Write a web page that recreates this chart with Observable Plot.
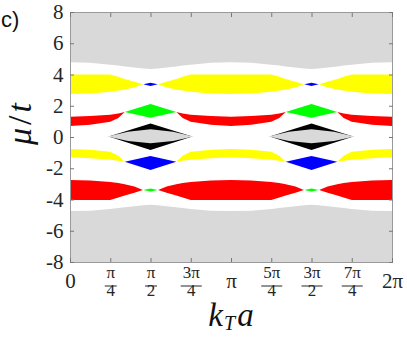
<!DOCTYPE html>
<html><head><meta charset="utf-8">
<script src="https://cdn.jsdelivr.net/npm/d3@7"></script>
<script src="https://cdn.jsdelivr.net/npm/@observablehq/plot@0.6"></script>
<style>body{margin:0;background:#fff;} svg{display:block;}</style>
</head><body><div id="chart"></div>
<script>
// k_T a positions, in units of π
const kx = [0,0.125,0.25,0.3,0.34,0.4,0.4525,0.5,0.5475,0.6,0.66,0.7,0.75,0.875,1.0,
            1.125,1.25,1.3,1.34,1.4,1.4525,1.5,1.5475,1.6,1.66,1.7,1.75,1.875,2.0];
// band edges (μ/t)
const grayTopLow = [4.78,4.75,4.62,4.57,4.52,4.45,4.38,4.35,4.38,4.45,4.52,4.57,4.62,4.75,4.78,
                    4.75,4.62,4.57,4.52,4.45,4.38,4.35,4.38,4.45,4.52,4.57,4.62,4.75,4.78];
const yelUpHi = [4.0,4.0,4.0,3.85,3.72,3.53,3.37,3.37,3.37,3.53,3.72,3.85,4.0,4.0,4.0,
                 4.0,4.0,3.85,3.72,3.53,3.37,3.37,3.37,3.53,3.72,3.85,4.0,4.0,4.0];
const yelUpLo = [2.75,2.79,2.9,2.97,3.04,3.17,3.37,3.37,3.37,3.17,3.04,2.97,2.9,2.79,2.75,
                 2.79,2.9,2.97,3.04,3.17,3.37,3.37,3.37,3.17,3.04,2.97,2.9,2.79,2.75];
const redUpHi = [1.3,1.34,1.42,1.5,1.6,1.6,1.6,1.6,1.6,1.6,1.6,1.5,1.42,1.34,1.3,
                 1.34,1.42,1.5,1.6,1.6,1.6,1.6,1.6,1.6,1.6,1.5,1.42,1.34,1.3];
const redUpLo = [0.71,0.78,0.98,1.22,1.6,1.6,1.6,1.6,1.6,1.6,1.6,1.22,0.98,0.78,0.71,
                 0.78,0.98,1.22,1.6,1.6,1.6,1.6,1.6,1.6,1.6,1.22,0.98,0.78,0.71];
const yelLoHi = [-0.77,-0.81,-0.95,-1.2,-1.58,-1.58,-1.58,-1.58,-1.58,-1.58,-1.58,-1.2,-0.95,-0.81,-0.77,
                 -0.81,-0.95,-1.2,-1.58,-1.58,-1.58,-1.58,-1.58,-1.58,-1.58,-1.2,-0.95,-0.81,-0.77];
const yelLoLo = [-1.3,-1.36,-1.45,-1.52,-1.58,-1.58,-1.58,-1.58,-1.58,-1.58,-1.58,-1.52,-1.45,-1.36,-1.3,
                 -1.36,-1.45,-1.52,-1.58,-1.58,-1.58,-1.58,-1.58,-1.58,-1.58,-1.52,-1.45,-1.36,-1.3];
const redLoHi = [-2.75,-2.78,-2.88,-2.95,-3.03,-3.17,-3.39,-3.39,-3.39,-3.17,-3.03,-2.95,-2.88,-2.78,-2.75,
                 -2.78,-2.88,-2.95,-3.03,-3.17,-3.39,-3.39,-3.39,-3.17,-3.03,-2.95,-2.88,-2.78,-2.75];
const redLoLo = [-4.03,-4.03,-4.03,-3.87,-3.75,-3.56,-3.39,-3.39,-3.39,-3.56,-3.75,-3.87,-4.03,-4.03,-4.03,
                 -4.03,-4.03,-3.87,-3.75,-3.56,-3.39,-3.39,-3.39,-3.56,-3.75,-3.87,-4.03,-4.03,-4.03];
const grayBotHigh = [-4.74,-4.72,-4.6,-4.55,-4.5,-4.43,-4.37,-4.34,-4.37,-4.43,-4.5,-4.55,-4.6,-4.72,-4.74,
                     -4.72,-4.6,-4.55,-4.5,-4.43,-4.37,-4.34,-4.37,-4.43,-4.5,-4.55,-4.6,-4.72,-4.74];

// small crossings and diamonds (x in units of π), one per period
const diaPeriod = [1,1,1,2,2,2];
const smallX = [0.455,0.5,0.545,1.455,1.5,1.545];
const blueSmLo = [3.37,3.26,3.37,3.37,3.26,3.37];
const blueSmHi = [3.37,3.48,3.37,3.37,3.48,3.37];
const greenSmLo = [-3.39,-3.49,-3.39,-3.39,-3.49,-3.39];
const greenSmHi = [-3.39,-3.29,-3.39,-3.39,-3.29,-3.39];
const bigX = [0.34,0.5,0.66,1.34,1.5,1.66];
const greenLo = [1.6,1.24,1.6,1.6,1.24,1.6];
const greenHi = [1.6,2.11,1.6,1.6,2.11,1.6];
const blueLo = [-1.58,-2.11,-1.58,-1.58,-2.11,-1.58];
const blueHi = [-1.58,-1.22,-1.58,-1.58,-1.22,-1.58];

const lensPeriod = [1,1,1,1,1,2,2,2,2,2];
const blackX = [0.24,0.36,0.5,0.64,0.76,1.24,1.36,1.5,1.64,1.76];
const blackLo = [0.03,-0.37,-0.83,-0.37,0.03,0.03,-0.37,-0.83,-0.37,0.03];
const blackHi = [0.03,0.42,0.87,0.42,0.03,0.03,0.42,0.87,0.42,0.03];
const lensX = [0.2325,0.36,0.5,0.64,0.7675,1.2325,1.36,1.5,1.64,1.7675];
const lensLo = [0.03,-0.25,-0.4,-0.25,0.03,0.03,-0.25,-0.4,-0.25,0.03];
const lensHi = [0.03,0.33,0.5,0.33,0.03,0.03,0.33,0.5,0.33,0.03];

// ticks
const yTicks = [-8,-6,-4,-2,0,2,4,6,8];
const xTickQuarter = [0,1,2,3,4,5,6,7,8];       // multiples of π/4
const xTickNum = ["0","π","π","3π","π","5π","3π","7π","2π"];
const xTickDen = [null,"4","2","4",null,"4","2","4",null];

const PI = Math.PI;
const bands = kx.map((k,i)=>({x:k*PI, gT:grayTopLow[i], yuH:yelUpHi[i], yuL:yelUpLo[i],
  ruH:redUpHi[i], ruL:redUpLo[i], ylH:yelLoHi[i], ylL:yelLoLo[i], rlH:redLoHi[i], rlL:redLoLo[i], gB:grayBotHigh[i]}));
const small = smallX.map((k,i)=>({x:k*PI, p:diaPeriod[i], bL:blueSmLo[i], bH:blueSmHi[i], gL:greenSmLo[i], gH:greenSmHi[i]}));
const big = bigX.map((k,i)=>({x:k*PI, p:diaPeriod[i], gL:greenLo[i], gH:greenHi[i], bL:blueLo[i], bH:blueHi[i]}));
const black = blackX.map((k,i)=>({x:k*PI, p:lensPeriod[i], lo:blackLo[i], hi:blackHi[i]}));
const lens = lensX.map((k,i)=>({x:k*PI, p:lensPeriod[i], lo:lensLo[i], hi:lensHi[i]}));

const xt = xTickQuarter.map((q,i)=>({x:q*PI/4, num:xTickNum[i], den:xTickDen[i]}));
const simpleT = xt.filter(d=>d.den===null);
const fracT = xt.filter(d=>d.den!==null);

const barSym = w => ({draw(ctx){ ctx.moveTo(-w/2,0); ctx.lineTo(w/2,0); }});
const serif = "Liberation Serif, Times New Roman, serif";
const tickCol = "#777";
const txtCol = "#262626";
const noLabel = () => "";

const plot = Plot.plot({
  width: 407, height: 337,
  marginLeft: 70, marginRight: 15, marginTop: 12, marginBottom: 75,
  x: {domain:[0, 2*PI], axis: null},
  y: {domain:[-8, 8], axis: null},
  style: {fontFamily: serif, background: "#fff"},
  marks: [
    Plot.areaY(bands, {x:"x", y1:"gT", y2:8, fill:"#d9d9d9"}),
    Plot.areaY(bands, {x:"x", y1:"gB", y2:-8, fill:"#d9d9d9"}),
    Plot.areaY(bands, {x:"x", y1:"yuL", y2:"yuH", fill:"#ffff00"}),
    Plot.areaY(bands, {x:"x", y1:"ruL", y2:"ruH", fill:"#ff0000"}),
    Plot.areaY(bands, {x:"x", y1:"ylL", y2:"ylH", fill:"#ffff00"}),
    Plot.areaY(bands, {x:"x", y1:"rlL", y2:"rlH", fill:"#ff0000"}),
    Plot.areaY(small, {x:"x", y1:"bL", y2:"bH", z:"p", fill:"#0000ff"}),
    Plot.areaY(small, {x:"x", y1:"gL", y2:"gH", z:"p", fill:"#00ff00"}),
    Plot.areaY(big, {x:"x", y1:"gL", y2:"gH", z:"p", fill:"#00ff00"}),
    Plot.areaY(big, {x:"x", y1:"bL", y2:"bH", z:"p", fill:"#0000ff"}),
    Plot.areaY(black, {x:"x", y1:"lo", y2:"hi", z:"p", fill:"#000000"}),
    Plot.areaY(lens, {x:"x", y1:"lo", y2:"hi", z:"p", fill:"#d9d9d9"}),
    Plot.frame({stroke:"#9a9a9a"}),
    // inward ticks (no labels)
    Plot.axisY(yTicks, {anchor:"left", tickSize:4, dx:4, tickFormat:noLabel, label:null, stroke:tickCol}),
    Plot.axisY(yTicks, {anchor:"right", tickSize:4, dx:-4, tickFormat:noLabel, label:null, stroke:tickCol}),
    Plot.axisX(xt.map(d=>d.x), {anchor:"bottom", tickSize:4, dy:-4, tickFormat:noLabel, label:null, stroke:tickCol}),
    Plot.axisX(xt.map(d=>d.x), {anchor:"top", tickSize:4, dy:4, tickFormat:noLabel, label:null, stroke:tickCol}),
    // y tick labels
    Plot.axisY(yTicks, {anchor:"left", tickSize:0, tickPadding:7, tickFormat:d=>String(d), label:null,
                        fontSize:21, fontFamily:serif, fill:txtCol}),
    // x tick labels
    Plot.text(simpleT, {x:"x", text:"num", frameAnchor:"bottom", dy:25, fontSize:21, fontFamily:serif, fill:txtCol}),
    Plot.text(fracT, {x:"x", text:"num", frameAnchor:"bottom", dy:15, fontSize:17, fontFamily:serif, fill:txtCol}),
    Plot.dot(fracT.filter(d=>d.num.length===1), {x:"x", frameAnchor:"bottom", dy:23.5, symbol:barSym(12), fill:"none", stroke:txtCol, strokeWidth:1}),
    Plot.dot(fracT.filter(d=>d.num.length>1), {x:"x", frameAnchor:"bottom", dy:23.5, symbol:barSym(21), fill:"none", stroke:txtCol, strokeWidth:1}),
    Plot.text(fracT, {x:"x", text:"den", frameAnchor:"bottom", dy:33, fontSize:17, fontFamily:serif, fill:txtCol})
  ]
});

const svg = d3.select(plot);
// panel label
svg.append("text").attr("x", 1).attr("y", 27).attr("text-anchor", "start")
   .attr("font-family", "Liberation Sans, Arial, sans-serif")
   .attr("font-size", 22).attr("fill", "#111").text("c)");
// x axis label k_T a
const xl = svg.append("text").attr("x", 231).attr("y", 326).attr("text-anchor", "middle")
   .attr("font-family", serif).attr("font-size", 33).attr("fill", "#111");
xl.append("tspan").attr("font-style", "italic").text("k");
xl.append("tspan").attr("font-style", "italic").attr("font-size", 20).attr("dx", 1).attr("dy", 4).text("T");
xl.append("tspan").attr("font-style", "italic").attr("dx", 2).attr("dy", -4).text("a");
// y axis label μ/t
const yl = svg.append("text").attr("transform", "translate(31,124) rotate(-90)").attr("text-anchor", "middle")
   .attr("font-family", serif).attr("font-size", 34).attr("fill", "#111");
yl.append("tspan").attr("font-style", "italic").text("μ");
yl.append("tspan").attr("dx", 3).text("/");
yl.append("tspan").attr("font-style", "italic").attr("dx", 3).text("t");

document.getElementById("chart").appendChild(plot);
</script>
</body></html>
